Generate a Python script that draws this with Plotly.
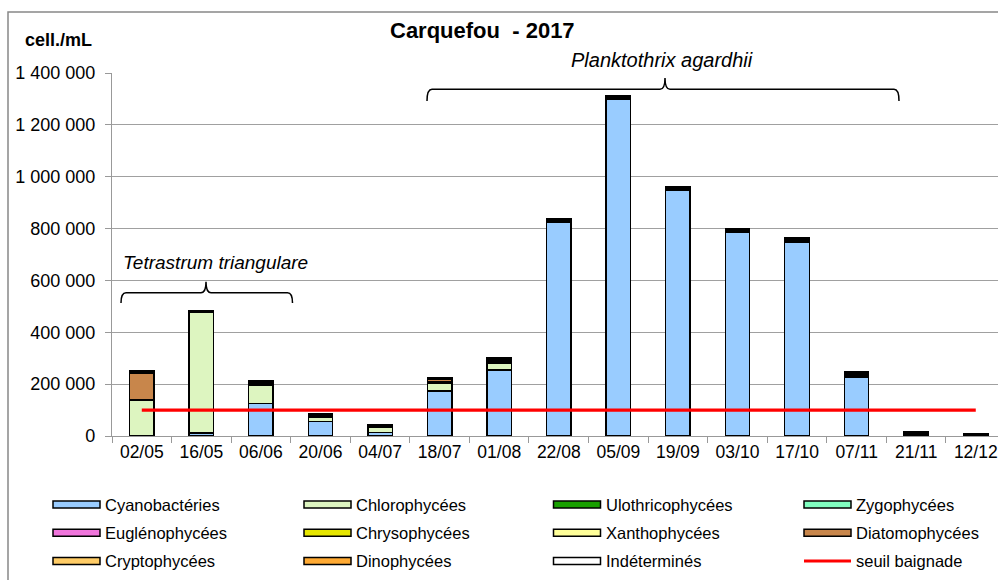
import plotly.graph_objects as go

# ---------------- data ----------------
dates = ["02/05", "16/05", "06/06", "20/06", "04/07", "18/07", "01/08", "22/08",
         "05/09", "19/09", "03/10", "17/10", "07/11", "21/11", "12/12"]

cyanobacteries = [3000, 12000, 126000, 55000, 13000, 174000, 255000, 824000,
                  1300000, 948000, 785000, 748000, 226000, 4000, 2000]
chlorophycees = [133000, 463000, 68000, 17000, 19000, 29000, 25000, 0,
                 0, 0, 0, 0, 0, 0, 0]
ulothricophycees = [0] * 15
zygophycees = [0] * 15
euglenophycees = [3000, 2000, 3000, 3000, 2000, 3000, 4000, 3000,
                  2000, 2000, 3000, 3000, 4000, 2000, 1000]
chrysophycees = [2000, 1000, 2000, 2000, 2000, 2000, 4000, 3000,
                 3000, 3000, 3000, 3000, 4000, 2000, 1000]
xanthophycees = [0] * 15
diatomophycees = [102000, 0, 5000, 0, 0, 9000, 0, 0, 0, 0, 0, 0, 0, 0, 0]
cryptophycees = [4000, 2000, 3000, 4000, 3000, 3000, 5000, 3000,
                 3000, 3000, 4000, 4000, 5000, 3000, 2000]
dinophycees = [2000, 1000, 2000, 3000, 1000, 2000, 4000, 2000,
               2000, 2000, 2000, 3000, 4000, 2000, 1000]
indetermines = [3000, 2000, 3000, 4000, 2000, 2000, 5000, 3000,
                2000, 2000, 4000, 4000, 5000, 3000, 2000]
seuil_baignade = [100000] * 15

group_names = ["Cyanobactéries", "Chlorophycées", "Ulothricophycées", "Zygophycées",
               "Euglénophycées", "Chrysophycées", "Xanthophycées", "Diatomophycées",
               "Cryptophycées", "Dinophycées", "Indéterminés"]
group_values = [cyanobacteries, chlorophycees, ulothricophycees, zygophycees,
                euglenophycees, chrysophycees, xanthophycees, diatomophycees,
                cryptophycees, dinophycees, indetermines]
group_colors = ["#99CCFF", "#DDF5C0", "#18A000", "#80FFC0",
                "#F075DC", "#E6E600", "#FFFF99", "#C8864B",
                "#FFCC66", "#FFAA33", "#FFFFFF"]
seuil_name = "seuil baignade"

y_tickvals = [0, 200000, 400000, 600000, 800000, 1000000, 1200000, 1400000]
y_ticktext = ["0", "200 000", "400 000", "600 000", "800 000",
              "1 000 000", "1 200 000", "1 400 000"]

title_text = "Carquefou\u00a0 - 2017"
unit_text = "cell./mL"
note_planktothrix = "Planktothrix agardhii"
note_tetrastrum = "Tetrastrum triangulare"

# ---------------- layout helpers (pixel -> paper) ----------------
W, H = 998, 580
L, T, R, B = 112, 73, 998, 436
PW, PH = R - L, B - T


def px(x):
    return (x - L) / PW


def py(y):
    return (B - y) / PH


FONT = "Liberation Sans, Arial, sans-serif"

fig = go.Figure()
for name, vals, col in zip(group_names, group_values, group_colors):
    fig.add_trace(go.Bar(
        x=dates, y=vals, name=name,
        marker=dict(color=col, line=dict(color="#000000", width=1.3)),
        showlegend=False,
    ))

fig.add_trace(go.Scatter(
    x=dates, y=seuil_baignade, name=seuil_name, mode="lines",
    line=dict(color="#FF0000", width=3.2), showlegend=False,
))

step = 59.57  # px per category
n_vis = PW / step
fig.update_xaxes(
    type="category", range=[-0.5, -0.5 + n_vis], automargin=False,
    showline=True, linecolor="#999999", linewidth=1.3,
    ticks="outside", tickson="boundaries", ticklen=6, tickcolor="#999999", tickwidth=1.3,
    showgrid=False,
    tickfont=dict(family=FONT, size=17.5, color="#000000"),
)
fig.update_yaxes(
    range=[0, 1400000], tickvals=y_tickvals, ticktext=y_ticktext, automargin=False,
    showline=True, linecolor="#999999", linewidth=1.3,
    ticks="outside", ticklen=6, tickcolor="#999999", tickwidth=1.3,
    showgrid=True, gridcolor="#A0A0A0", gridwidth=1.3,
    zeroline=False,
    ticklabelstandoff=6,
    tickfont=dict(family=FONT, size=18, color="#000000"),
)

shapes = []
# outer chart frame (left + top edges visible)
shapes.append(dict(type="path", xref="paper", yref="paper",
                   path=f"M{px(8)},{py(600)} L{px(8)},{py(12)} L{px(1010)},{py(12)}",
                   line=dict(color="#888888", width=1.5)))


def brace(x0, x1, xm, ybot, yline, ypeak, r=5):
    p = (f"M{px(x0)},{py(ybot)} "
         f"Q{px(x0)},{py(yline)} {px(x0 + r)},{py(yline)} "
         f"L{px(xm - r)},{py(yline)} "
         f"Q{px(xm)},{py(yline)} {px(xm)},{py(ypeak)} "
         f"Q{px(xm)},{py(yline)} {px(xm + r)},{py(yline)} "
         f"L{px(x1 - r)},{py(yline)} "
         f"Q{px(x1)},{py(yline)} {px(x1)},{py(ybot)}")
    return dict(type="path", xref="paper", yref="paper", path=p,
                line=dict(color="#000000", width=1.5))


shapes.append(brace(427, 899, 665, 101, 89.3, 78))
shapes.append(brace(121, 292.5, 206, 303, 292.7, 281.7))

annotations = []
annotations.append(dict(text=f"<b>{title_text}</b>", xref="paper", yref="paper",
                        x=px(482), y=py(31), xanchor="center", yanchor="middle",
                        showarrow=False, font=dict(family=FONT, size=22, color="#000000")))
annotations.append(dict(text=f"<b>{unit_text}</b>", xref="paper", yref="paper",
                        x=px(58.5), y=py(40), xanchor="center", yanchor="middle",
                        showarrow=False, font=dict(family=FONT, size=18, color="#000000")))
annotations.append(dict(text=f"<i>{note_planktothrix}</i>", xref="paper", yref="paper",
                        x=px(662), y=py(60), xanchor="center", yanchor="middle",
                        showarrow=False, font=dict(family=FONT, size=20, color="#000000")))
annotations.append(dict(text=f"<i>{note_tetrastrum}</i>", xref="paper", yref="paper",
                        x=px(215), y=py(262), xanchor="center", yanchor="middle",
                        showarrow=False, font=dict(family=FONT, size=19, color="#000000")))

# custom legend: 4 columns x 3 rows
col_x = [53, 304, 553.5, 804]
row_y = [504.5, 532.8, 561]
sym_w = 47
legend_items = list(zip(group_names, group_colors)) + [(seuil_name, None)]
for i, (name, col) in enumerate(legend_items):
    cx = col_x[i % 4]
    cy = row_y[i // 4]
    if col is not None:
        shapes.append(dict(type="rect", xref="paper", yref="paper",
                           x0=px(cx), x1=px(cx + sym_w), y0=py(cy + 3.5), y1=py(cy - 3.5),
                           fillcolor=col, line=dict(color="#000000", width=1.5)))
    else:
        shapes.append(dict(type="line", xref="paper", yref="paper",
                           x0=px(cx), x1=px(cx + sym_w), y0=py(cy), y1=py(cy),
                           line=dict(color="#FF0000", width=3.2)))
    annotations.append(dict(text=name, xref="paper", yref="paper",
                            x=px(cx + sym_w + 3), y=py(cy), xanchor="left", yanchor="middle",
                            showarrow=False,
                            font=dict(family=FONT, size=16.5, color="#000000")))

fig.update_layout(
    width=W, height=H,
    margin=dict(l=L, r=W - R, t=T, b=H - B, pad=0, autoexpand=False),
    barmode="stack", bargap=0.59,
    plot_bgcolor="#FFFFFF", paper_bgcolor="#FFFFFF",
    shapes=shapes, annotations=annotations,
    font=dict(family=FONT, color="#000000"),
    showlegend=False,
)

fig.write_html("out.html", config={"displayModeBar": False},
               post_script="document.body.style.margin='0';document.body.style.overflow='hidden';")
